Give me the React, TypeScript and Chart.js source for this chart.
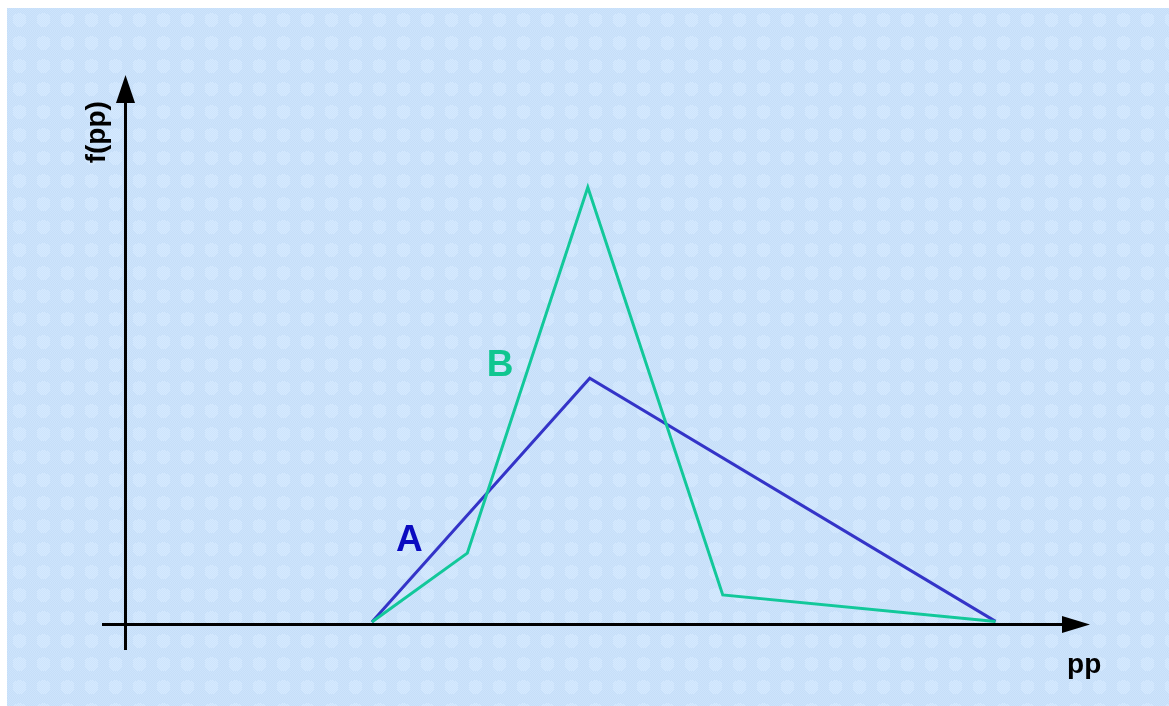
import React, { useEffect, useRef } from "react";
import { Chart, registerables } from "chart.js";

Chart.register(...registerables);

// Curve A: pp positions and f(pp) values
const ppA = [25.5, 48.1, 90.2];
const fA = [0.6, 44.9, 0.7];

// Curve B: pp positions and f(pp) values
const ppB = [25.5, 35.4, 47.9, 61.9, 90.2];
const fB = [0.6, 13.1, 79.6, 5.5, 0.7];

const labelA = "A";
const labelB = "B";
const xTitle = "pp";
const yTitle = "f(pp)";

const colorA = "#3434c8";
const colorB = "#12c89a";
const textA = "#0a0ac0";
const textB = "#10c690";

const FONT = "'Liberation Sans', Arial, sans-serif";

// Light blue dithered backdrop with soft lighter spots
function makeBackground(ctx: CanvasRenderingContext2D) {
  const tile = document.createElement("canvas");
  tile.width = 24;
  tile.height = 23;
  const t = tile.getContext("2d")!;
  t.fillStyle = "#cde4fc";
  t.fillRect(0, 0, 24, 23);
  for (let y = 0; y < 23; y++) {
    for (let x = 0; x < 24; x++) {
      const dx = x - 12;
      const dy = y - 11.5;
      const d = Math.sqrt(dx * dx + dy * dy);
      if ((x + y) % 2 === 0) {
        t.fillStyle = d < 7 ? "#d5e9fe" : "#c6def8";
        t.fillRect(x, y, 1, 1);
      }
    }
  }
  return ctx.createPattern(tile, "repeat")!;
}

const decorPlugin = {
  id: "decor",
  beforeDraw(chart: any) {
    const { ctx, width, height } = chart;
    ctx.save();
    ctx.fillStyle = makeBackground(ctx);
    ctx.fillRect(0, 0, width, height);
    ctx.restore();
  },
  afterDatasetsDraw(chart: any) {
    const { ctx, chartArea } = chart;
    const xs = chart.scales.x;
    const ys = chart.scales.y;
    const ox = Math.round(xs.getPixelForValue(0)) - 0.5;
    const oy = Math.round(ys.getPixelForValue(0)) - 0.5;
    ctx.save();
    ctx.strokeStyle = "#000";
    ctx.fillStyle = "#000";
    ctx.lineWidth = 3;
    // vertical axis
    ctx.beginPath();
    ctx.moveTo(ox, chartArea.bottom);
    ctx.lineTo(ox, chartArea.top + 20);
    ctx.stroke();
    ctx.beginPath();
    ctx.moveTo(ox, chartArea.top);
    ctx.lineTo(ox - 9.5, chartArea.top + 28);
    ctx.lineTo(ox + 9.5, chartArea.top + 28);
    ctx.closePath();
    ctx.fill();
    // horizontal axis
    ctx.beginPath();
    ctx.moveTo(chartArea.left, oy);
    ctx.lineTo(chartArea.right - 20, oy);
    ctx.stroke();
    ctx.beginPath();
    ctx.moveTo(chartArea.right, oy);
    ctx.lineTo(chartArea.right - 28, oy - 8.5);
    ctx.lineTo(chartArea.right - 28, oy + 8.5);
    ctx.closePath();
    ctx.fill();

    ctx.textAlign = "center";
    ctx.textBaseline = "middle";
    ctx.font = `bold 37px ${FONT}`;
    ctx.fillStyle = textA;
    ctx.fillText(labelA, xs.getPixelForValue(29.4), ys.getPixelForValue(15.4));
    ctx.fillStyle = textB;
    ctx.fillText(labelB, xs.getPixelForValue(38.8), ys.getPixelForValue(47.2));

    ctx.fillStyle = "#000";
    ctx.font = `bold 28px ${FONT}`;
    ctx.fillText(xTitle, xs.getPixelForValue(99.4), ys.getPixelForValue(-7.2));
    ctx.save();
    ctx.translate(xs.getPixelForValue(-3.0), ys.getPixelForValue(89.6));
    ctx.rotate(-Math.PI / 2);
    ctx.fillText(yTitle, 0, 0);
    ctx.restore();
    ctx.restore();
  },
};

export default function App() {
  const ref = useRef<HTMLCanvasElement>(null);
  useEffect(() => {
    const canvas = ref.current!;
    const chart = new Chart(canvas, {
      type: "line",
      data: {
        datasets: [
          {
            label: labelB,
            data: ppB.map((x, i) => ({ x, y: fB[i] })),
            borderColor: colorB,
            borderWidth: 3,
            pointRadius: 0,
            borderJoinStyle: "miter",
            tension: 0,
            fill: false,
          },
          {
            label: labelA,
            data: ppA.map((x, i) => ({ x, y: fA[i] })),
            borderColor: colorA,
            borderWidth: 3,
            pointRadius: 0,
            borderJoinStyle: "miter",
            tension: 0,
            fill: false,
          },
        ],
      },
      options: {
        animation: false,
        responsive: false,
        devicePixelRatio: 1,
        layout: { padding: { left: 95, top: 67, right: 79, bottom: 56 } },
        plugins: { legend: { display: false }, tooltip: { enabled: false } },
        scales: {
          x: { type: "linear", min: -2.5, max: 100, display: false },
          y: { type: "linear", min: -4.5, max: 100, display: false },
        },
      },
      plugins: [decorPlugin],
    } as any);
    return () => chart.destroy();
  }, []);
  return (
    <div style={{ position: "fixed", left: 7, top: 8, width: 1162, height: 698 }}>
      <canvas ref={ref} width={1162} height={698} style={{ display: "block" }} />
    </div>
  );
}
